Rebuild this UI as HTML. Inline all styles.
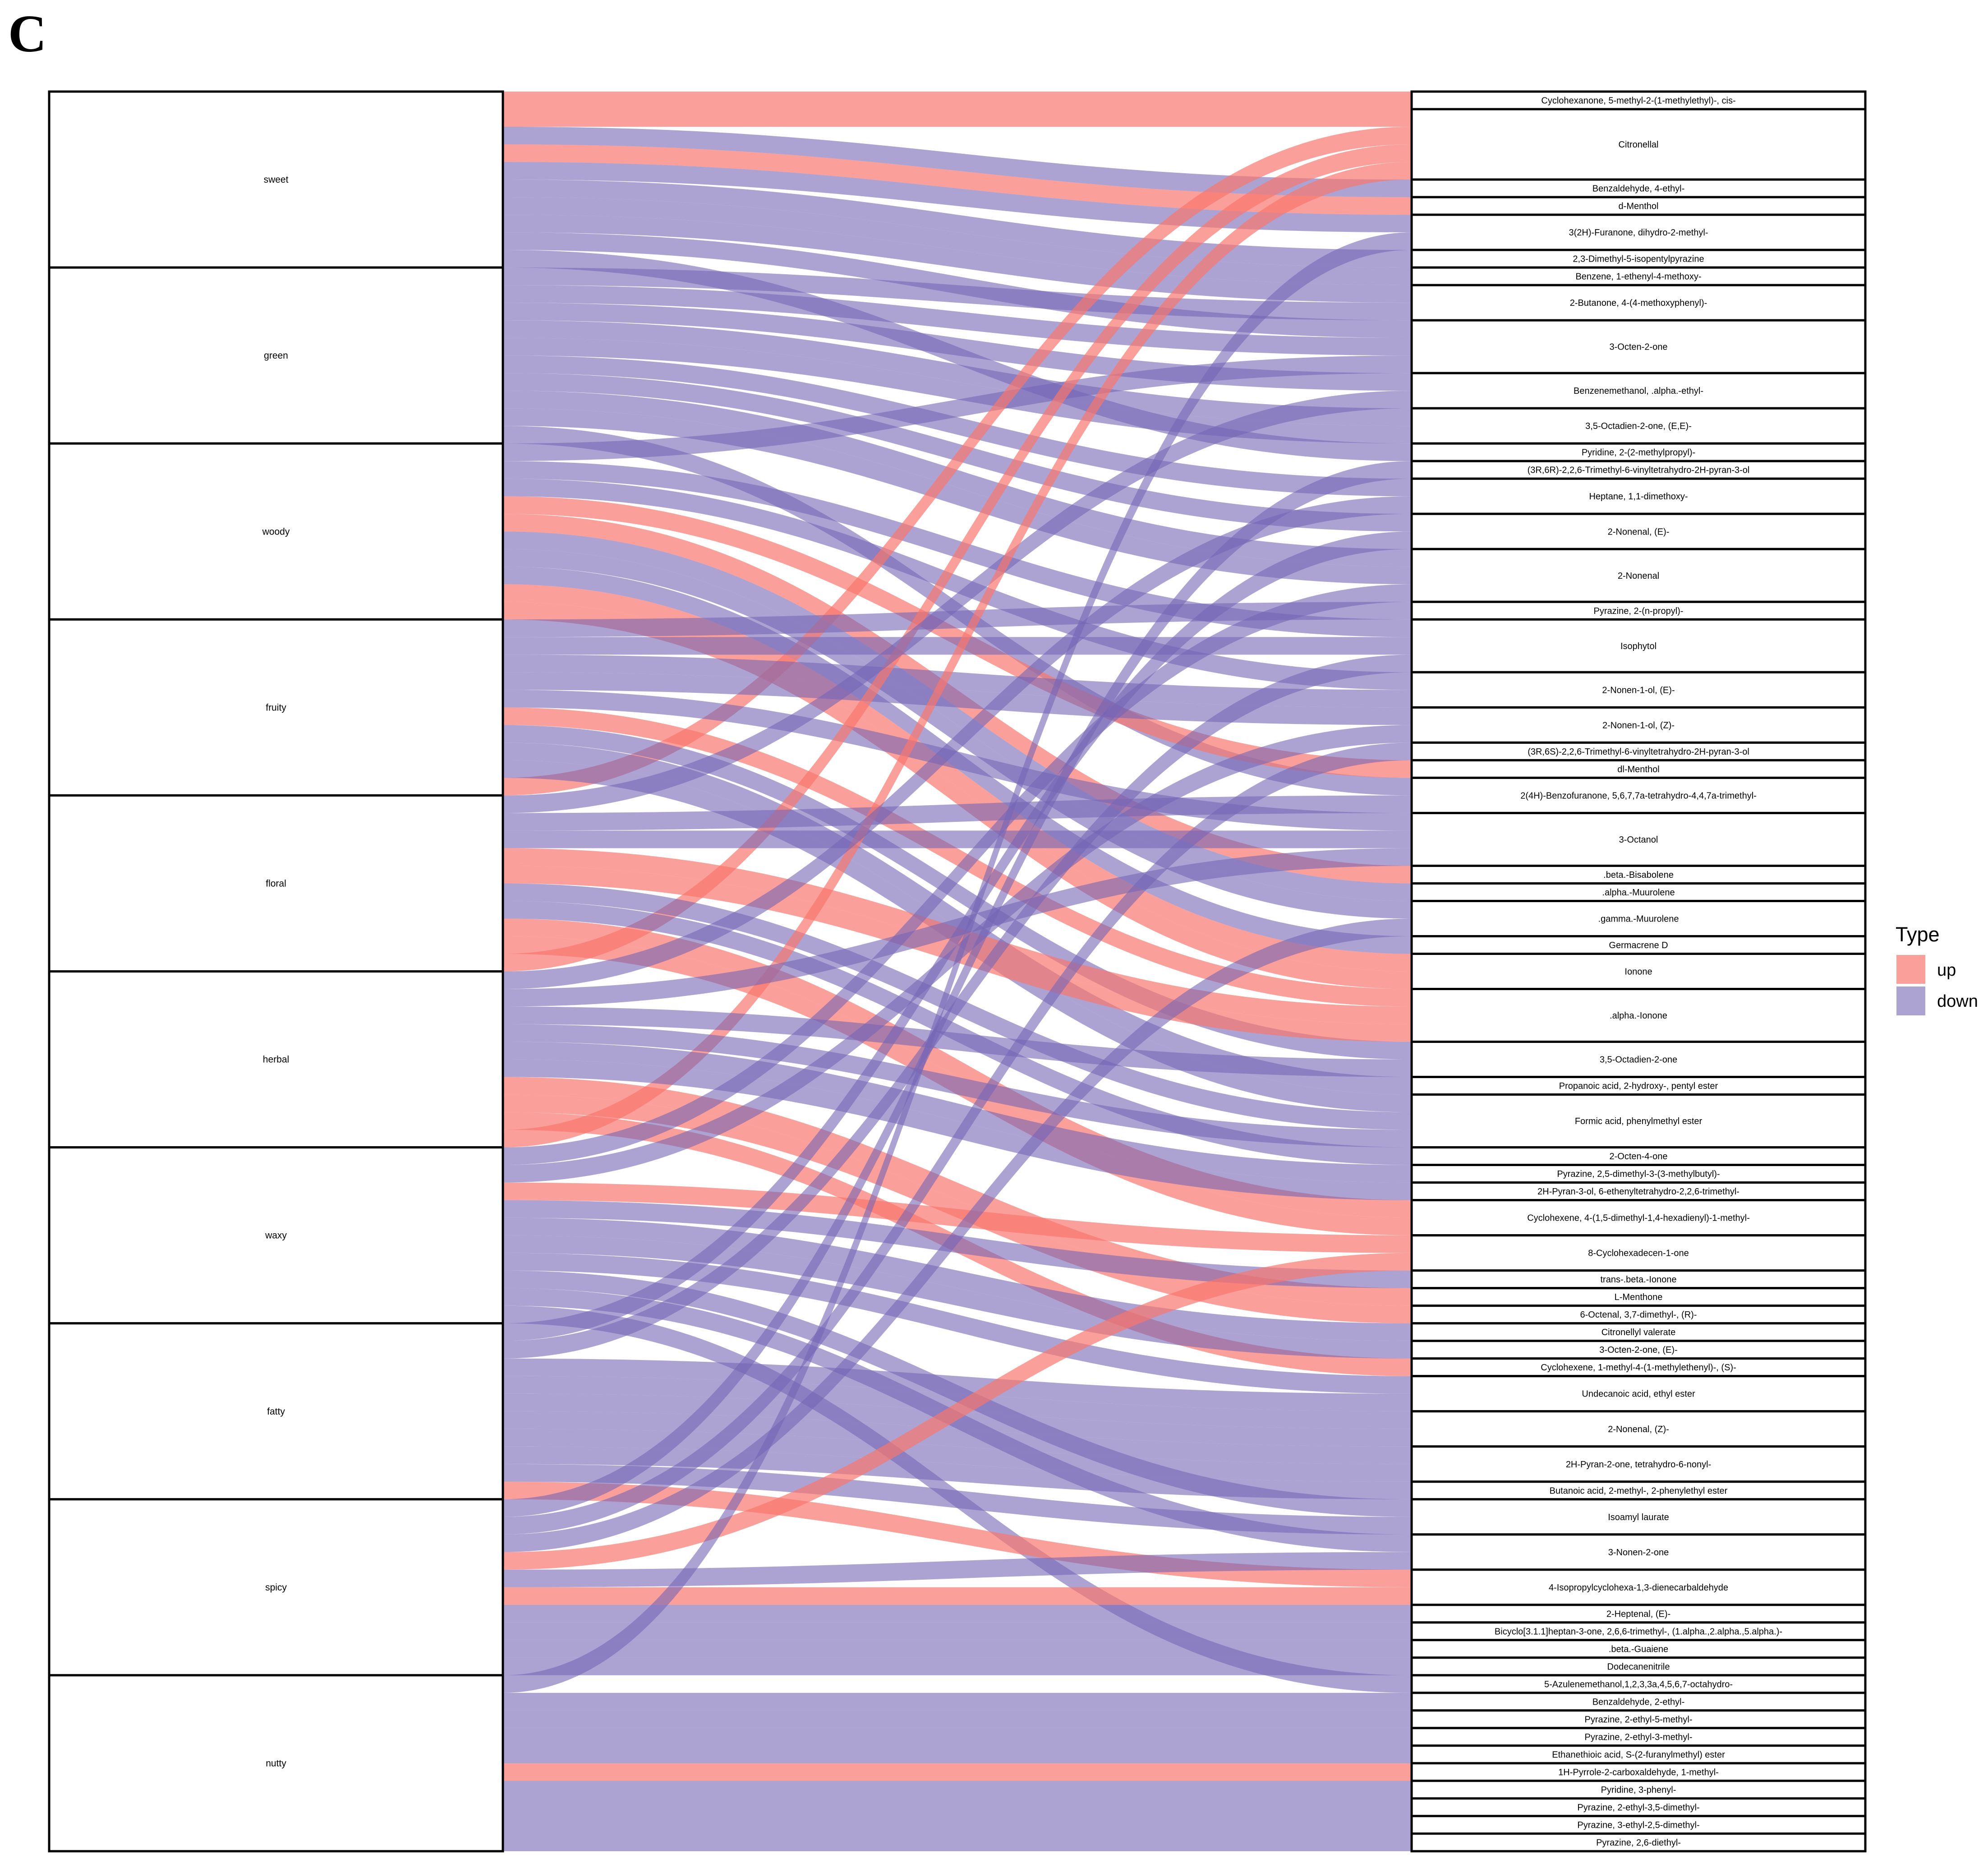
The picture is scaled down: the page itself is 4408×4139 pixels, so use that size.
<!DOCTYPE html>
<html>
<head>
<meta charset="utf-8">
<style>
  html, body { margin: 0; padding: 0; background: #ffffff; }
  body { width: 4408px; height: 4139px; overflow: hidden; }
  svg { display: block; }
</style>
</head>
<body>
<svg id="chart" xmlns="http://www.w3.org/2000/svg" width="4408" height="4139" viewBox="0 0 4408 4139">
  <text x="18" y="114" font-family="Liberation Serif, serif" font-weight="bold" font-size="118">C</text>
  <g id="flows"></g>
  <g id="left-strata"></g>
  <g id="right-strata"></g>
  <g>
    <text x="4203" y="2087" font-family="Liberation Sans, sans-serif" font-size="45">Type</text>
    <rect x="4205" y="2117" width="64" height="64" fill="#F8766D" fill-opacity="0.7"/>
    <text x="4295" y="2163" font-family="Liberation Sans, sans-serif" font-size="38">up</text>
    <rect x="4205" y="2187" width="64" height="64" fill="#7565B5" fill-opacity="0.6"/>
    <text x="4295" y="2232" font-family="Liberation Sans, sans-serif" font-size="38">down</text>
  </g>
</svg>
<script>
const categories = ["sweet","green","woody","fruity","floral","herbal","waxy","fatty","spicy","nutty"];
const compounds = [
"Cyclohexanone, 5-methyl-2-(1-methylethyl)-, cis-","Citronellal","Benzaldehyde, 4-ethyl-","d-Menthol",
"3(2H)-Furanone, dihydro-2-methyl-","2,3-Dimethyl-5-isopentylpyrazine","Benzene, 1-ethenyl-4-methoxy-",
"2-Butanone, 4-(4-methoxyphenyl)-","3-Octen-2-one","Benzenemethanol, .alpha.-ethyl-","3,5-Octadien-2-one, (E,E)-",
"Pyridine, 2-(2-methylpropyl)-","(3R,6R)-2,2,6-Trimethyl-6-vinyltetrahydro-2H-pyran-3-ol","Heptane, 1,1-dimethoxy-",
"2-Nonenal, (E)-","2-Nonenal","Pyrazine, 2-(n-propyl)-","Isophytol","2-Nonen-1-ol, (E)-","2-Nonen-1-ol, (Z)-",
"(3R,6S)-2,2,6-Trimethyl-6-vinyltetrahydro-2H-pyran-3-ol","dl-Menthol","2(4H)-Benzofuranone, 5,6,7,7a-tetrahydro-4,4,7a-trimethyl-",
"3-Octanol",".beta.-Bisabolene",".alpha.-Muurolene",".gamma.-Muurolene","Germacrene D","Ionone",".alpha.-Ionone",
"3,5-Octadien-2-one","Propanoic acid, 2-hydroxy-, pentyl ester","Formic acid, phenylmethyl ester","2-Octen-4-one",
"Pyrazine, 2,5-dimethyl-3-(3-methylbutyl)-","2H-Pyran-3-ol, 6-ethenyltetrahydro-2,2,6-trimethyl-",
"Cyclohexene, 4-(1,5-dimethyl-1,4-hexadienyl)-1-methyl-","8-Cyclohexadecen-1-one","trans-.beta.-Ionone","L-Menthone",
"6-Octenal, 3,7-dimethyl-, (R)-","Citronellyl valerate","3-Octen-2-one, (E)-","Cyclohexene, 1-methyl-4-(1-methylethenyl)-, (S)-",
"Undecanoic acid, ethyl ester","2-Nonenal, (Z)-","2H-Pyran-2-one, tetrahydro-6-nonyl-","Butanoic acid, 2-methyl-, 2-phenylethyl ester",
"Isoamyl laurate","3-Nonen-2-one","4-Isopropylcyclohexa-1,3-dienecarbaldehyde","2-Heptenal, (E)-",
"Bicyclo[3.1.1]heptan-3-one, 2,6,6-trimethyl-, (1.alpha.,2.alpha.,5.alpha.)-",".beta.-Guaiene","Dodecanenitrile",
"5-Azulenemethanol,1,2,3,3a,4,5,6,7-octahydro-","Benzaldehyde, 2-ethyl-","Pyrazine, 2-ethyl-5-methyl-","Pyrazine, 2-ethyl-3-methyl-",
"Ethanethioic acid, S-(2-furanylmethyl) ester","1H-Pyrrole-2-carboxaldehyde, 1-methyl-","Pyridine, 3-phenyl-",
"Pyrazine, 2-ethyl-3,5-dimethyl-","Pyrazine, 3-ethyl-2,5-dimethyl-","Pyrazine, 2,6-diethyl-"];
const flowCat = [
0,0,0,0,0,0,0,0,0,0,
1,1,1,1,1,1,1,1,1,1,
2,2,2,2,2,2,2,2,2,2,
3,3,3,3,3,3,3,3,3,3,
4,4,4,4,4,4,4,4,4,4,
5,5,5,5,5,5,5,5,5,5,
6,6,6,6,6,6,6,6,6,6,
7,7,7,7,7,7,7,7,7,7,
8,8,8,8,8,8,8,8,8,8,
9,9,9,9,9,9,9,9,9,9];
const flowComp = [
0,1,3,2,4,5,6,7,8,11,
7,8,9,10,10,13,14,15,15,22,
21,24,28,28,8,17,18,25,26,27,
29,1,16,17,18,19,23,30,31,32,
29,29,36,36,1,9,22,23,32,33,
39,40,43,1,13,23,30,32,34,35,
37,15,19,38,41,42,44,48,49,55,
50,14,17,44,45,45,46,46,47,48,
37,50,12,20,26,49,51,52,53,54,
60,4,56,57,58,59,61,62,63,64];
const flowType = [
"up","up","up","down","down","down","down","down","down","down",
"down","down","down","down","down","down","down","down","down","down",
"up","up","up","up","down","down","down","down","down","down",
"up","up","down","down","down","down","down","down","down","down",
"up","up","up","up","up","down","down","down","down","down",
"up","up","up","up","down","down","down","down","down","down",
"up","down","down","down","down","down","down","down","down","down",
"up","down","down","down","down","down","down","down","down","down",
"up","up","down","down","down","down","down","down","down","down",
"up","down","down","down","down","down","down","down","down","down"];

const NS = "http://www.w3.org/2000/svg";
const TOP = 203, BOTTOM = 4104;
const LX0 = 109, LX1 = 1115, RX0 = 3130, RX1 = 4136;
const N = flowCat.length;
const unit = (BOTTOM - TOP) / N;
function yScale(u) { return TOP + u * unit; }

// stratum sizes from data
const catCount = categories.map((_, i) => flowCat.filter(c => c === i).length);
const compCount = compounds.map((_, i) => flowComp.filter(c => c === i).length);
const catStart = []; let acc = 0;
catCount.forEach((n, i) => { catStart[i] = acc; acc += n; });
const compStart = []; acc = 0;
compCount.forEach((n, i) => { compStart[i] = acc; acc += n; });

// left positions: within category, sort by target compound (non-sweet Citronellal flows placed last)
const leftPos = new Array(N), rightPos = new Array(N);
categories.forEach((_, ci) => {
  const idx = [];
  for (let k = 0; k < N; k++) if (flowCat[k] === ci) idx.push(k);
  const key = k => (flowComp[k] === 1 && ci !== 0) ? 1000 : flowComp[k];
  idx.sort((a, b) => key(a) - key(b) || a - b);
  idx.forEach((k, j) => { leftPos[k] = catStart[ci] + j; });
});
compounds.forEach((_, mi) => {
  const idx = [];
  for (let k = 0; k < N; k++) if (flowComp[k] === mi) idx.push(k);
  idx.sort((a, b) => flowCat[a] - flowCat[b] || a - b);
  idx.forEach((k, j) => { rightPos[k] = compStart[mi] + j; });
});

const flowsG = document.getElementById("flows");
const colors = { up: "#F8766D", down: "#7565B5" };
const opac = { up: 0.7, down: 0.6 };
const cx0 = LX1 + (RX0 - LX1) * 0.45, cx1 = RX0 - (RX0 - LX1) * 0.45;
// draw down first then up? keep original order
for (let k = 0; k < N; k++) {
  const y0a = yScale(leftPos[k]), y0b = yScale(leftPos[k] + 1);
  const y1a = yScale(rightPos[k]), y1b = yScale(rightPos[k] + 1);
  const d = `M${LX1},${y0a} C${cx0},${y0a} ${cx1},${y1a} ${RX0},${y1a} L${RX0},${y1b} C${cx1},${y1b} ${cx0},${y0b} ${LX1},${y0b} Z`;
  const p = document.createElementNS(NS, "path");
  
  
  p.setAttribute("d", d);
  p.setAttribute("fill", colors[flowType[k]]);
  p.setAttribute("fill-opacity", opac[flowType[k]]);
  flowsG.appendChild(p);
}

const leftG = document.getElementById("left-strata");
categories.forEach((name, i) => {
  const y0 = yScale(catStart[i]), y1 = yScale(catStart[i] + catCount[i]);
  const r = document.createElementNS(NS, "rect");
  
  
  r.setAttribute("x", LX0); r.setAttribute("y", y0);
  r.setAttribute("width", LX1 - LX0); r.setAttribute("height", y1 - y0);
  r.setAttribute("fill", "#ffffff"); r.setAttribute("stroke", "#000"); r.setAttribute("stroke-width", "5");
  leftG.appendChild(r);
  const t = document.createElementNS(NS, "text");
  
  
  t.setAttribute("x", (LX0 + LX1) / 2); t.setAttribute("y", (y0 + y1) / 2 + 7);
  t.setAttribute("text-anchor", "middle");
  t.setAttribute("font-family", "Liberation Sans, sans-serif");
  t.setAttribute("font-size", "21");
  t.textContent = name;
  leftG.appendChild(t);
});

const rightG = document.getElementById("right-strata");
compounds.forEach((name, i) => {
  const y0 = yScale(compStart[i]), y1 = yScale(compStart[i] + compCount[i]);
  const r = document.createElementNS(NS, "rect");
  
  
  r.setAttribute("x", RX0); r.setAttribute("y", y0);
  r.setAttribute("width", RX1 - RX0); r.setAttribute("height", y1 - y0);
  r.setAttribute("fill", "#ffffff"); r.setAttribute("stroke", "#000"); r.setAttribute("stroke-width", "5");
  rightG.appendChild(r);
  const t = document.createElementNS(NS, "text");
  
  
  t.setAttribute("x", (RX0 + RX1) / 2); t.setAttribute("y", (y0 + y1) / 2 + 7);
  t.setAttribute("text-anchor", "middle");
  t.setAttribute("font-family", "Liberation Sans, sans-serif");
  t.setAttribute("font-size", "20");
  t.textContent = name;
  rightG.appendChild(t);
});
</script>
</body>
</html>
